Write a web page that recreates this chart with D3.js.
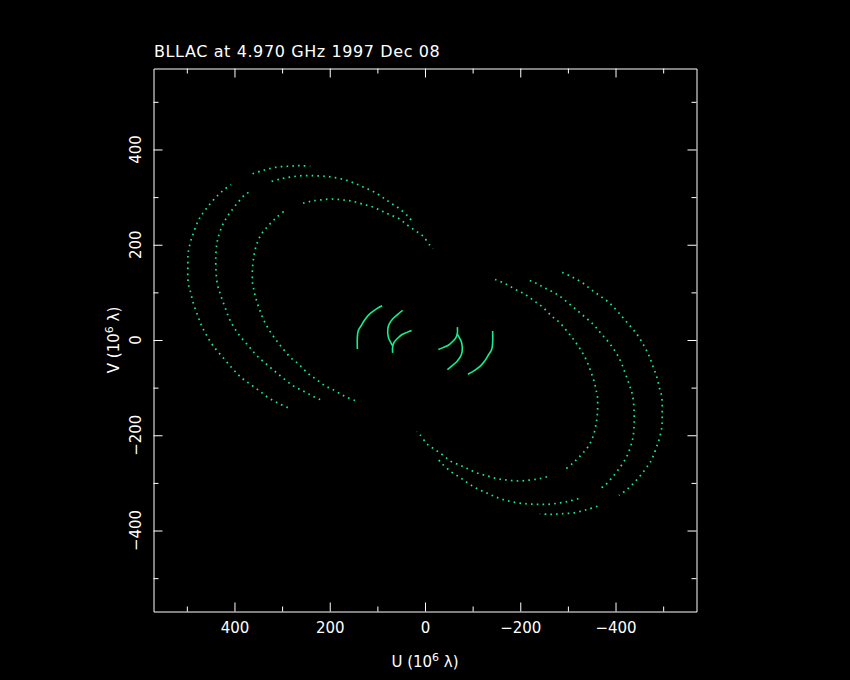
<!DOCTYPE html>
<html><head><meta charset="utf-8">
<script src="https://cdn.jsdelivr.net/npm/d3@7"></script>
<style>html,body{margin:0;padding:0;background:#000;} svg{display:block;}</style>
</head><body>
<svg id="chart" width="850" height="680"></svg>
<script>
// ---- chart text ----
const titleText = "BLLAC at 4.970 GHz 1997 Dec 08";
const xAxisName = "U";
const yAxisName = "V";
const unitBase = "10", unitExp = "6", unitSym = "λ";

// ---- ticks ----
const majorTicks = [-400, -200, 0, 200, 400];
const minorTicks = [-500, -300, -100, 100, 300, 500];
const axisLimit = 570;

// ---- uv tracks (U, V in 10^6 λ); conjugate points (-U,-V) are plotted too ----
const outerArc = [[288,-142],[308,-133],[332,-119],[350,-105],[371,-90],[388,-77],[406,-58],[425,-36],[445,-12],[458,9],[469,30],[477,51],[487,79],[493,104],[497,118],[498,156],[497,184],[492,207],[488,219],[479,244],[472,258],[462,272],[445,293],[424,314],[407,326]];
const outerTop = [[362,349],[340,356],[311,363],[283,365],[262,366],[241,365]];
const middleArc = [[220,-125],[230,-121],[241,-115],[254,-108],[277,-96],[304,-75],[329,-54],[353,-33],[371,-12],[392,13],[409,41],[420,69],[430,97],[436,118],[439,150],[439,181],[437,202],[434,216],[427,237],[420,251],[409,268],[395,286],[378,305],[363,314]];
const middleTop = [[322,333],[304,338],[283,342],[259,345],[235,345],[214,344],[189,341],[164,335],[145,328],[127,320],[109,312],[91,301],[74,289],[54,276],[35,259],[29,252]];
const innerArc = [[147,-127],[167,-119],[190,-106],[210,-96],[229,-82],[247,-69],[266,-50],[283,-36],[301,-15],[315,3],[329,24],[340,45],[348,66],[355,87],[359,104],[362,119],[362,153],[359,177],[353,202],[343,223],[329,240],[311,258],[294,272]];
const innerTop = [[256,287],[241,291],[220,294],[196,296],[172,294],[151,291],[130,285],[109,279],[89,270],[74,263],[55,255],[38,242],[21,230],[5,219],[-11,198],[-17,192]];
const shortArcA = [[90,72],[101,66],[116,55],[126,43],[134,30],[140,20],[142,6],[142,-19]];
const shortArcB = [[47,62],[56,55],[67,45],[75,34],[78,24],[77,6],[72,-5],[68,-12]];
const shortArcC = [[28,20],[38,16],[49,11],[57,4],[65,-5],[68,-15],[68,-27]];

const longTracks = [outerArc, outerTop, middleArc, middleTop, innerArc, innerTop];
const shortTracks = [shortArcA, shortArcB, shortArcC];

// ---- drawing ----
const W = 850, H = 680;
const pLeft = 153.5, pRight = 696.5, pTop = 68.5, pBottom = 611.5;
const FONT = "'DejaVu Sans', sans-serif";
const COL = "#14f08c";

const svg = d3.select("#chart");
svg.append("rect").attr("width", W).attr("height", H).attr("fill", "#000");

const x = d3.scaleLinear().domain([axisLimit, -axisLimit]).range([pLeft, pRight]);
const y = d3.scaleLinear().domain([-axisLimit, axisLimit]).range([pBottom, pTop]);

const fmt = v => v < 0 ? "\u2212" + Math.abs(v) : String(v);

function styleAxis(g) {
  g.selectAll("path, line").attr("stroke", "#fff").attr("stroke-width", 1);
  g.selectAll("text").attr("fill", "#fff").attr("font-family", FONT).attr("font-size", 15);
}

// bottom
svg.append("g").attr("transform", `translate(0,${pBottom})`)
  .call(d3.axisBottom(x).tickValues(majorTicks).tickSize(-9).tickSizeOuter(0).tickPadding(11).tickFormat(fmt))
  .call(styleAxis);
svg.append("g").attr("transform", `translate(0,${pBottom})`)
  .call(d3.axisBottom(x).tickValues(minorTicks).tickSize(-5).tickSizeOuter(0).tickFormat(""))
  .call(g => g.select(".domain").remove()).call(styleAxis);
// top
svg.append("g").attr("transform", `translate(0,${pTop})`)
  .call(d3.axisTop(x).tickValues(majorTicks).tickSize(-9).tickSizeOuter(0).tickFormat(""))
  .call(styleAxis);
svg.append("g").attr("transform", `translate(0,${pTop})`)
  .call(d3.axisTop(x).tickValues(minorTicks).tickSize(-5).tickSizeOuter(0).tickFormat(""))
  .call(g => g.select(".domain").remove()).call(styleAxis);
// left
svg.append("g").attr("transform", `translate(${pLeft},0)`)
  .call(d3.axisLeft(y).tickValues(majorTicks).tickSize(-9).tickSizeOuter(0).tickFormat(""))
  .call(styleAxis);
svg.append("g").attr("transform", `translate(${pLeft},0)`)
  .call(d3.axisLeft(y).tickValues(minorTicks).tickSize(-5).tickSizeOuter(0).tickFormat(""))
  .call(g => g.select(".domain").remove()).call(styleAxis);
// right
svg.append("g").attr("transform", `translate(${pRight},0)`)
  .call(d3.axisRight(y).tickValues(majorTicks).tickSize(-9).tickSizeOuter(0).tickFormat(""))
  .call(styleAxis);
svg.append("g").attr("transform", `translate(${pRight},0)`)
  .call(d3.axisRight(y).tickValues(minorTicks).tickSize(-5).tickSizeOuter(0).tickFormat(""))
  .call(g => g.select(".domain").remove()).call(styleAxis);

// left tick labels (rotated)
svg.append("g").selectAll("text").data(majorTicks).join("text")
  .attr("transform", d => `translate(136,${y(d)}) rotate(-90)`)
  .attr("text-anchor", "middle").attr("dy", "0.36em")
  .attr("fill", "#fff").attr("font-family", FONT).attr("font-size", 15)
  .text(fmt);

// axis names
function unitLabel(sel, name) {
  sel.append("tspan").text(name + " (" + unitBase);
  sel.append("tspan").attr("dy", -6).attr("font-size", 11).text(unitExp);
  sel.append("tspan").attr("dy", 6).text(" " + unitSym + ")");
}
svg.append("text").attr("x", (pLeft + pRight) / 2).attr("y", 667)
  .attr("text-anchor", "middle").attr("fill", "#fff")
  .attr("font-family", FONT).attr("font-size", 15)
  .call(unitLabel, xAxisName);
svg.append("text").attr("transform", `translate(119,${(pTop + pBottom) / 2}) rotate(-90)`)
  .attr("text-anchor", "middle").attr("fill", "#fff")
  .attr("font-family", FONT).attr("font-size", 15)
  .call(unitLabel, yAxisName);

// title
svg.append("text").attr("x", 154).attr("y", 57)
  .attr("fill", "#fff").attr("font-family", FONT).attr("font-size", 16)
  .attr("letter-spacing", 0.6).text(titleText);

// tracks
const line = d3.line().x(d => x(d[0])).y(d => y(d[1])).curve(d3.curveCatmullRom.alpha(0.5));
const conj = t => t.map(([u, v]) => [-u, -v]);
const plot = svg.append("g");
longTracks.forEach(t => {
  [t, conj(t)].forEach(d => {
    plot.append("path").attr("d", line(d)).attr("fill", "none")
      .attr("stroke", COL).attr("stroke-width", 1.7).attr("stroke-dasharray", "1.6,4.2");
  });
});
shortTracks.forEach(t => {
  [t, conj(t)].forEach(d => {
    plot.append("path").attr("d", line(d)).attr("fill", "none")
      .attr("stroke", COL).attr("stroke-width", 1.6);
  });
});
</script>
</body></html>
